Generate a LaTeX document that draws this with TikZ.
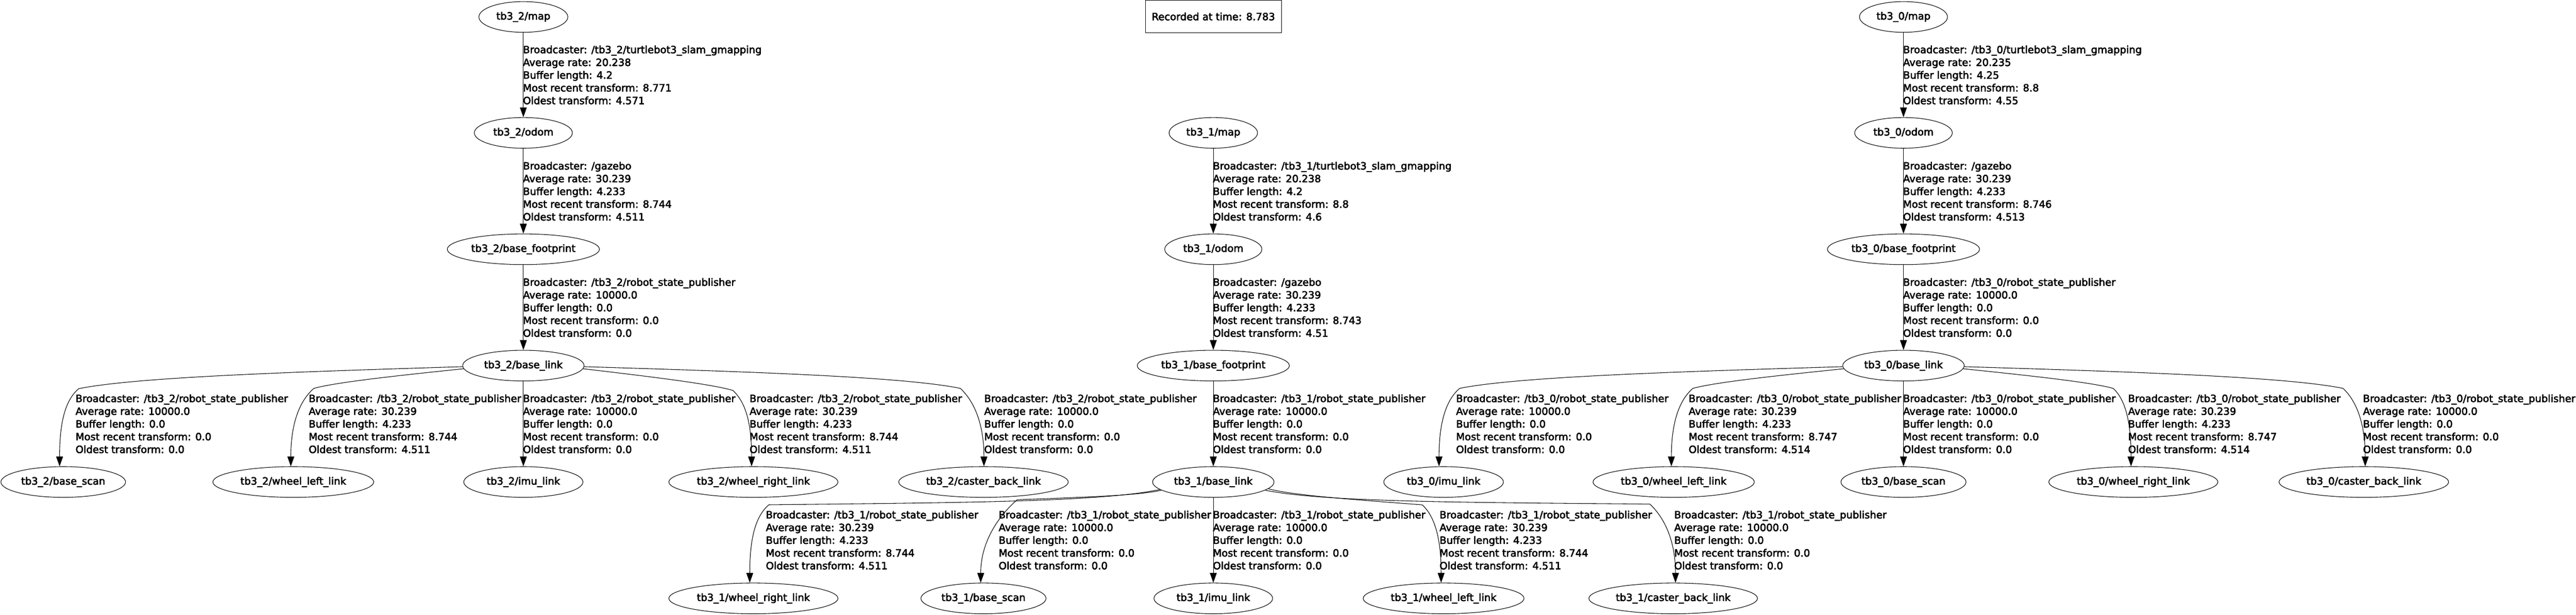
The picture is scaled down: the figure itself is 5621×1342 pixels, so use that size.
\documentclass[tikz,border=0pt]{standalone}
\usepackage{fontspec}
\setmainfont{DejaVu Sans}[FakeBold=3]
\usetikzlibrary{shapes.geometric,arrows.meta,calc}
\newcommand\tflab[8]{\node[lab] (#1) at (#2,#3) {Broadcaster: #4\\Average rate: #5\\Buffer length: #6\\Most recent transform: #7\\Oldest transform: #8};}
\newcommand\tfedge[8]{\draw[edge] (#1) .. controls ($(#1)!#4!(#2)+(0,#5)$) and ($(#1)!#6!(#2)+(0,#7)$) .. (#2) .. controls +#8 and +(0,-100) .. (#3);}
\begin{document}
\begin{tikzpicture}[x=1pt,y=-1pt,
 nd/.style={ellipse,draw,line width=1.2pt,inner sep=0pt,minimum height=67pt,font=\fontsize{22}{26}\selectfont},
 lab/.style={anchor=north west,inner sep=0pt,align=left,font=\fontsize{22}{27.8}\selectfont},
 edge/.style={line width=1.2pt,-{Triangle[length=21.5pt,width=15pt]}},
 recbox/.style={draw,line width=1.2pt,inner sep=0pt,minimum width=297pt,minimum height=70pt,font=\fontsize{22}{26}\selectfont}]
\fill[white] (0,0) rectangle (5621,1342);
\useasboundingbox (0,0) rectangle (5621,1342);
% record box
\node[recbox] (rec) at (2647.7,36) {Recorded at time: 8.783};
% tb3_2 column
\node[nd,minimum width=194pt] (m2) at (1142,37) {tb3\_2/map};
\node[nd,minimum width=214pt] (o2) at (1142,290) {tb3\_2/odom};
\node[nd,minimum width=332pt] (f2) at (1142,544) {tb3\_2/base\_footprint};
\node[nd,minimum width=265pt] (b2) at (1142,798) {tb3\_2/base\_link};
\node[nd,minimum width=272pt] (s2) at (138,1052) {tb3\_2/base\_scan};
\node[nd,minimum width=351pt] (wl2) at (640,1052) {tb3\_2/wheel\_left\_link};
\node[nd,minimum width=260pt] (i2) at (1142,1052) {tb3\_2/imu\_link};
\node[nd,minimum width=369pt] (wr2) at (1644,1052) {tb3\_2/wheel\_right\_link};
\node[nd,minimum width=370pt] (c2) at (2146,1052) {tb3\_2/caster\_back\_link};
% tb3_1 column
\node[nd,minimum width=193pt] (m1) at (2647.5,290) {tb3\_1/map};
\node[nd,minimum width=212pt] (o1) at (2647.5,544) {tb3\_1/odom};
\node[nd,minimum width=332pt] (f1) at (2647.5,798) {tb3\_1/base\_footprint};
\node[nd,minimum width=265pt] (b1) at (2647.5,1052) {tb3\_1/base\_link};
\node[nd,minimum width=369pt] (wr1) at (1644,1306) {tb3\_1/wheel\_right\_link};
\node[nd,minimum width=273pt] (s1) at (2146,1306) {tb3\_1/base\_scan};
\node[nd,minimum width=259pt] (i1) at (2647.5,1306) {tb3\_1/imu\_link};
\node[nd,minimum width=351pt] (wl1) at (3150,1306) {tb3\_1/wheel\_left\_link};
\node[nd,minimum width=368pt] (cb1) at (3651,1306) {tb3\_1/caster\_back\_link};
% tb3_0 column
\node[nd,minimum width=192pt] (m0) at (4153.5,37) {tb3\_0/map};
\node[nd,minimum width=213pt] (o0) at (4153.5,290) {tb3\_0/odom};
\node[nd,minimum width=332pt] (f0) at (4153.5,544) {tb3\_0/base\_footprint};
\node[nd,minimum width=265pt] (b0) at (4153.5,798) {tb3\_0/base\_link};
\node[nd,minimum width=261pt] (i0) at (3150,1052) {tb3\_0/imu\_link};
\node[nd,minimum width=352pt] (wl0) at (3652,1052) {tb3\_0/wheel\_left\_link};
\node[nd,minimum width=273pt] (s0) at (4153.5,1052) {tb3\_0/base\_scan};
\node[nd,minimum width=369pt] (wr0) at (4655,1052) {tb3\_0/wheel\_right\_link};
\node[nd,minimum width=370pt] (c0) at (5158,1052) {tb3\_0/caster\_back\_link};
% vertical edges
\draw[edge] (m2.south) -- (o2.north);
\draw[edge] (o2.south) -- (f2.north);
\draw[edge] (f2.south) -- (b2.north);
\draw[edge] (b2.south) -- (i2.north);
\draw[edge] (m1.south) -- (o1.north);
\draw[edge] (o1.south) -- (f1.north);
\draw[edge] (f1.south) -- (b1.north);
\draw[edge] (b1.south) -- (i1.north);
\draw[edge] (m0.south) -- (o0.north);
\draw[edge] (o0.south) -- (f0.north);
\draw[edge] (f0.south) -- (b0.north);
\draw[edge] (b0.south) -- (s0.north);
% knees
\coordinate (k-s2) at (171.7,848.3);
\coordinate (k-wl2) at (685,847.6);
\coordinate (k-wr2) at (1599,852);
\coordinate (k-c2) at (2095.4,847.6);
\coordinate (k-wr1) at (1677.6,1101.7);
\coordinate (k-s1) at (2219.6,1090.7);
\coordinate (k-wl1) at (3103.5,1101.9);
\coordinate (k-cb1) at (3600,1100.2);
\coordinate (k-i0) at (3185,847.6);
\coordinate (k-wl0) at (3694,847.6);
\coordinate (k-wr0) at (4611,847.6);
\coordinate (k-c0) at (5112.5,847.6);
% curved edges
\tfedge{b2.181}{k-s2}{$(s2.north)+(-8,0)$}{0.45}{-10}{0.85}{-18}{(-28,24)}
\tfedge{b2.183}{k-wl2}{$(wl2.north)+(-5.4,0)$}{0.45}{-4}{0.85}{-7}{(-28,24)}
\tfedge{b2.357}{k-wr2}{$(wr2.north)+(-4,0)$}{0.45}{-4}{0.85}{-7}{(26,24)}
\tfedge{b2.359}{k-c2}{$(c2.north)+(1,0)$}{0.45}{-10}{0.85}{-18}{(26,24)}
\tfedge{b1.188}{k-wr1}{$(wr1.north)+(-8,0)$}{0.15}{22}{0.5}{12}{(-28,24)}
\tfedge{b1.189}{k-s1}{$(s1.north)+(-6,0)$}{0.15}{8}{0.5}{4.5}{(-28,24)}
\tfedge{b1.353}{k-wl1}{$(wl1.north)+(-5.4,0)$}{0.15}{8.5}{0.5}{4.7}{(26,24)}
\tfedge{b1.351.5}{k-cb1}{$(cb1.north)+(5,0)$}{0.15}{21}{0.5}{11.5}{(26,24)}
\tfedge{b0.181}{k-i0}{$(i0.north)+(-10,0)$}{0.45}{-10}{0.85}{-18}{(-28,24)}
\tfedge{b0.183}{k-wl0}{$(wl0.north)+(-5,0)$}{0.45}{-4}{0.85}{-7}{(-28,24)}
\tfedge{b0.357}{k-wr0}{$(wr0.north)+(-5,0)$}{0.45}{-4}{0.85}{-7}{(26,24)}
\tfedge{b0.359}{k-c0}{$(c0.north)+(3,0)$}{0.45}{-10}{0.85}{-18}{(26,24)}
% labels row 1
\tflab{l-m2o2}{1141}{99.3}{/tb3\_2/turtlebot3\_slam\_gmapping}{20.238}{4.2}{8.771}{4.571}
\tflab{l-m0o0}{4152.5}{99.3}{/tb3\_0/turtlebot3\_slam\_gmapping}{20.235}{4.25}{8.8}{4.55}
% row 2
\tflab{l-o2f2}{1141}{353.1}{/gazebo}{30.239}{4.233}{8.744}{4.511}
\tflab{l-m1o1}{2646.5}{353.1}{/tb3\_1/turtlebot3\_slam\_gmapping}{20.238}{4.2}{8.8}{4.6}
\tflab{l-o0f0}{4152.5}{353.1}{/gazebo}{30.239}{4.233}{8.746}{4.513}
% row 3
\tflab{l-f2b2}{1141}{606.9}{/tb3\_2/robot\_state\_publisher}{10000.0}{0.0}{0.0}{0.0}
\tflab{l-o1f1}{2646.5}{606.9}{/gazebo}{30.239}{4.233}{8.743}{4.51}
\tflab{l-f0b0}{4152.5}{606.9}{/tb3\_0/robot\_state\_publisher}{10000.0}{0.0}{0.0}{0.0}
% row 4
\tflab{l-s2}{164.7}{860.7}{/tb3\_2/robot\_state\_publisher}{10000.0}{0.0}{0.0}{0.0}
\tflab{l-wl2}{673.5}{860.7}{/tb3\_2/robot\_state\_publisher}{30.239}{4.233}{8.744}{4.511}
\tflab{l-i2}{1141}{860.7}{/tb3\_2/robot\_state\_publisher}{10000.0}{0.0}{0.0}{0.0}
\tflab{l-wr2}{1635.4}{860.7}{/tb3\_2/robot\_state\_publisher}{30.239}{4.233}{8.744}{4.511}
\tflab{l-c2}{2147.4}{860.7}{/tb3\_2/robot\_state\_publisher}{10000.0}{0.0}{0.0}{0.0}
\tflab{l-f1b1}{2646.5}{860.7}{/tb3\_1/robot\_state\_publisher}{10000.0}{0.0}{0.0}{0.0}
\tflab{l-i0}{3177}{860.7}{/tb3\_0/robot\_state\_publisher}{10000.0}{0.0}{0.0}{0.0}
\tflab{l-wl0}{3684.6}{860.7}{/tb3\_0/robot\_state\_publisher}{30.239}{4.233}{8.747}{4.514}
\tflab{l-s0}{4152.5}{860.7}{/tb3\_0/robot\_state\_publisher}{10000.0}{0.0}{0.0}{0.0}
\tflab{l-wr0}{4643.5}{860.7}{/tb3\_0/robot\_state\_publisher}{30.239}{4.233}{8.747}{4.514}
\tflab{l-c0}{5156}{860.7}{/tb3\_0/robot\_state\_publisher}{10000.0}{0.0}{0.0}{0.0}
% row 5
\tflab{l-wr1}{1671}{1114.5}{/tb3\_1/robot\_state\_publisher}{30.239}{4.233}{8.744}{4.511}
\tflab{l-s1}{2179}{1114.5}{/tb3\_1/robot\_state\_publisher}{10000.0}{0.0}{0.0}{0.0}
\tflab{l-i1}{2646.5}{1114.5}{/tb3\_1/robot\_state\_publisher}{10000.0}{0.0}{0.0}{0.0}
\tflab{l-wl1}{3141}{1114.5}{/tb3\_1/robot\_state\_publisher}{30.239}{4.233}{8.744}{4.511}
\tflab{l-cb1}{3653}{1114.5}{/tb3\_1/robot\_state\_publisher}{10000.0}{0.0}{0.0}{0.0}
\end{tikzpicture}
\end{document}
